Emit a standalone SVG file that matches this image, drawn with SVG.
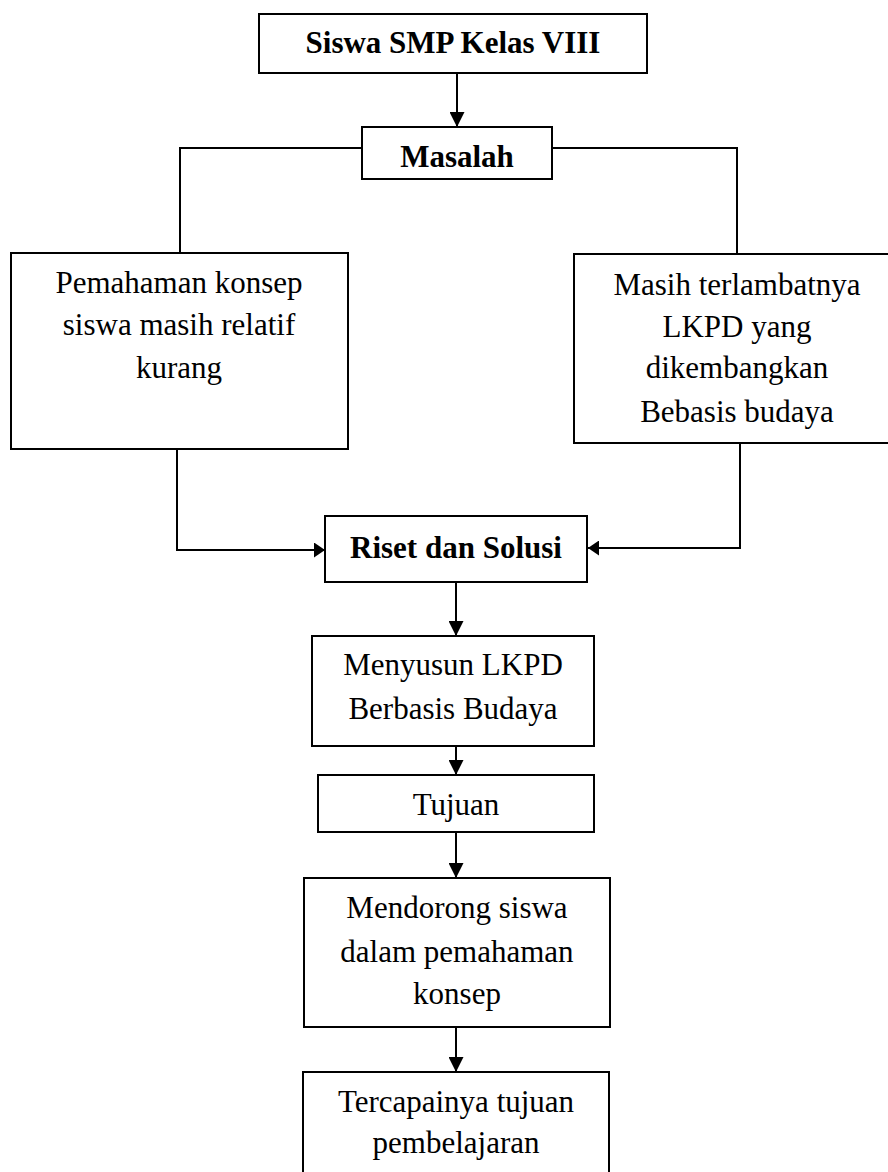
<svg xmlns="http://www.w3.org/2000/svg" width="888" height="1172" viewBox="0 0 888 1172">
<style>
.box{fill:#fff;stroke:#000;stroke-width:2}
.t{font-family:"Liberation Serif","Times New Roman",serif;font-size:31px;fill:#000;text-anchor:middle}
.b{font-weight:bold}
.ln{fill:none;stroke:#000;stroke-width:2}
</style>
<defs>
<marker id="av" viewBox="0 0 10 10" refX="10" refY="5" markerWidth="15" markerHeight="15" markerUnits="userSpaceOnUse" orient="auto" preserveAspectRatio="none">
<path d="M0,0 L10,5 L0,10 Z" fill="#000"/>
</marker>
<marker id="ah" viewBox="0 0 10 10" refX="10" refY="5" markerWidth="11" markerHeight="15" markerUnits="userSpaceOnUse" orient="auto" preserveAspectRatio="none">
<path d="M0,0 L10,5 L0,10 Z" fill="#000"/>
</marker>
</defs>
<rect width="888" height="1172" fill="#fff"/>
<g id="connectors">
<line class="ln" x1="457" y1="73" x2="457" y2="127" marker-end="url(#av)"/>
<polyline class="ln" points="362,148 180,148 180,253"/>
<polyline class="ln" points="552,148 737,148 737,254"/>
<polyline class="ln" points="177,449 177,550 325,550" marker-end="url(#ah)"/>
<polyline class="ln" points="740,443 740,548 588,548" marker-end="url(#ah)"/>
<line class="ln" x1="456" y1="582" x2="456" y2="636" marker-end="url(#av)"/>
<line class="ln" x1="456" y1="746" x2="456" y2="775" marker-end="url(#av)"/>
<line class="ln" x1="456" y1="832" x2="456" y2="878" marker-end="url(#av)"/>
<line class="ln" x1="456" y1="1027" x2="456" y2="1072" marker-end="url(#av)"/>
</g>
<g id="n-siswa">
<rect class="box" x="259" y="14" width="388" height="59"/>
<text class="t b" x="453" y="53">Siswa SMP Kelas VIII</text>
</g>
<g id="n-masalah">
<rect class="box" x="362" y="127" width="190" height="52"/>
<text class="t b" x="457" y="167">Masalah</text>
</g>
<g id="n-pemahaman">
<rect class="box" x="11" y="253" width="337" height="196"/>
<text class="t" x="179" y="293">Pemahaman konsep</text>
<text class="t" x="179" y="335">siswa masih relatif</text>
<text class="t" x="179" y="378">kurang</text>
</g>
<g id="n-masih">
<rect class="box" x="574" y="254" width="320" height="189"/>
<text class="t" x="737" y="295">Masih terlambatnya</text>
<text class="t" x="737" y="337">LKPD yang</text>
<text class="t" x="737" y="378">dikembangkan</text>
<text class="t" x="737" y="422">Bebasis budaya</text>
</g>
<g id="n-riset">
<rect class="box" x="325" y="516" width="262" height="66"/>
<text class="t b" x="456" y="558">Riset dan Solusi</text>
</g>
<g id="n-menyusun">
<rect class="box" x="312" y="636" width="282" height="110"/>
<text class="t" x="453" y="675">Menyusun LKPD</text>
<text class="t" x="453" y="719">Berbasis Budaya</text>
</g>
<g id="n-tujuan">
<rect class="box" x="318" y="775" width="276" height="57"/>
<text class="t" x="456" y="815">Tujuan</text>
</g>
<g id="n-mendorong">
<rect class="box" x="304" y="878" width="306" height="149"/>
<text class="t" x="457" y="918">Mendorong siswa</text>
<text class="t" x="457" y="962">dalam pemahaman</text>
<text class="t" x="457" y="1004">konsep</text>
</g>
<g id="n-tercapai">
<rect class="box" x="303" y="1072" width="306" height="120"/>
<text class="t" x="456" y="1112">Tercapainya tujuan</text>
<text class="t" x="456" y="1153">pembelajaran</text>
</g>
</svg>
